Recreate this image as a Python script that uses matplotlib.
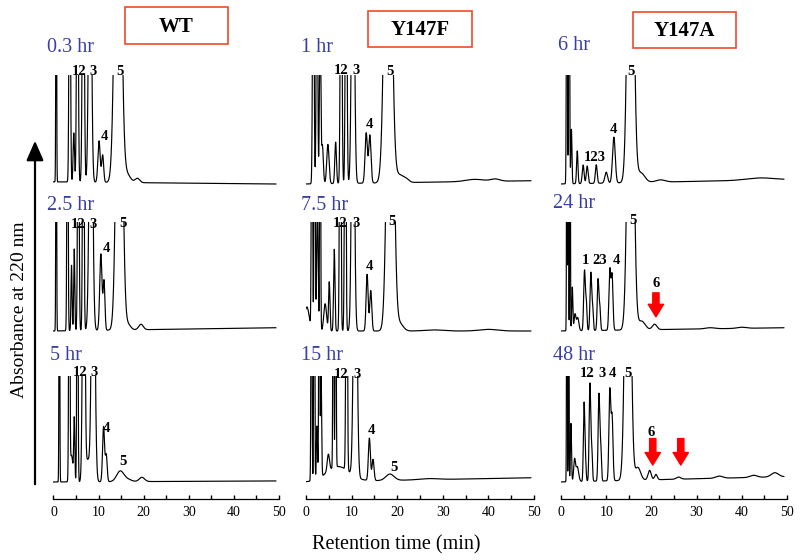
import numpy as np
import matplotlib.pyplot as plt
from matplotlib.patches import Rectangle, FancyArrowPatch

plt.rcParams['font.family'] = ['Liberation Serif', 'DejaVu Serif']

W, H = 802, 560

# peak tables: (retention time min, height, width min)
# height 1 = top of the panel, taller peaks are cut off there
wt_03h = [(0.6, 3, 0.08), (3.6, 3, 0.15), (4.5, 0.45, 0.15), (5.3, 3, 0.17),
          (6.6, 3, 0.2), (8.1, 3, 0.3), (10.1, 0.38, 0.25), (10.9, 0.25, 0.22),
          (14.3, 4, 0.65), (16.2, 0.08, 0.8), (18.6, 0.04, 0.5)]
wt_25h = [(0.6, 3, 0.08), (3.1, 3, 0.12), (4.0, 0.6, 0.12), (4.6, 0.75, 0.12),
          (5.5, 3, 0.15), (6.6, 3, 0.15), (8.3, 3, 0.35), (10.5, 0.7, 0.25),
          (11.2, 0.45, 0.2), (14.6, 4, 0.6), (16.5, 0.05, 0.6), (19.4, 0.05, 0.5)]
wt_5h = [(1.3, 3, 0.08), (3.5, 3, 0.12), (4.0, 0.25, 0.3), (4.6, 0.58, 0.12),
         (5.3, 3, 0.12), (6.7, 3, 0.25), (7.6, 0.2, 0.4), (8.8, 3, 0.35),
         (11.1, 0.52, 0.22), (11.7, 0.25, 0.2), (14.8, 0.1, 0.8),
         (16.5, 0.02, 0.8), (19.6, 0.04, 0.6)]
f_1h = [(1.6, 3, 0.15), (2.4, 2.5, 0.15), (3.1, 1.5, 0.15), (3.6, 0.35, 0.2),
        (4.8, 0.36, 0.25), (6.5, 0.38, 0.18), (7.7, 3, 0.17), (8.8, 3, 0.17),
        (10.3, 3, 0.3), (13.2, 0.46, 0.25), (14.0, 0.44, 0.25), (18.0, 4, 0.7),
        (20.5, 0.07, 0.8), (22.0, 0.03, 0.6), (37.0, 0.02, 2.0), (41.5, 0.02, 1.0)]
f_75h = [(0.2, 0.22, 0.5), (1.3, 3, 0.12), (1.9, 3, 0.12), (2.5, 1.2, 0.15),
         (3.1, 3, 0.1), (4.2, 0.25, 0.3), (5.1, 0.45, 0.15), (6.2, 0.75, 0.15),
         (7.5, 3, 0.15), (8.6, 3, 0.15), (10.3, 3, 0.3), (13.4, 0.52, 0.22),
         (14.2, 0.37, 0.22), (18.5, 4, 0.65), (20.5, 0.07, 0.8),
         (28.0, 0.01, 2.0), (40.0, 0.015, 2.0)]
f_15h = [(1.2, 3, 0.1), (1.8, 3, 0.1), (2.4, 0.5, 0.12), (2.9, 3, 0.1),
         (3.3, 1, 0.12), (7.0, 0.14, 2.5), (4.9, 0.16, 0.25), (6.0, 3, 0.1),
         (6.5, 3, 0.1), (8.9, 3, 0.15), (10.8, 3, 0.35), (13.9, 0.4, 0.22),
         (14.7, 0.2, 0.22), (18.4, 0.06, 0.9), (27.0, 0.01, 2.0)]
a_6h = [(1.3, 3, 0.1), (1.8, 3, 0.1), (2.3, 0.5, 0.12), (3.6, 0.3, 0.15),
        (4.9, 0.17, 0.2), (5.8, 0.16, 0.2), (7.8, 0.17, 0.2), (10.0, 0.1, 0.3),
        (11.7, 0.42, 0.3), (15.4, 4, 0.6), (17.6, 0.09, 0.9), (22.0, 0.02, 1.0),
        (44.0, 0.02, 3.0)]
a_24h = [(1.3, 3, 0.07), (1.6, 3, 0.07), (2.0, 3, 0.07), (2.5, 0.4, 0.12),
         (3.1, 0.15, 0.2), (3.7, 0.12, 0.25), (5.2, 0.55, 0.18), (5.6, 0.25, 0.15),
         (6.6, 0.53, 0.18), (7.0, 0.2, 0.15), (8.2, 0.47, 0.18), (8.6, 0.2, 0.15),
         (10.8, 0.55, 0.2), (11.3, 0.5, 0.2), (15.4, 4, 0.6), (17.8, 0.08, 0.8),
         (20.7, 0.05, 0.5), (33.0, 0.01, 1.0), (40.0, 0.01, 1.0)]
a_48h = [(1.3, 3, 0.07), (1.7, 3, 0.07), (2.2, 0.55, 0.12), (3.0, 0.2, 0.2),
         (3.6, 0.14, 0.3), (5.1, 0.72, 0.15), (5.4, 0.2, 0.15), (6.4, 0.92, 0.17),
         (6.8, 0.3, 0.15), (8.4, 0.82, 0.18), (8.8, 0.3, 0.15), (10.8, 0.85, 0.2),
         (11.3, 0.6, 0.2), (14.8, 4, 0.55), (17.0, 0.12, 0.6), (19.6, 0.09, 0.35),
         (21.0, 0.05, 0.3), (26.0, 0.02, 0.5), (35.0, 0.02, 0.8),
         (42.6, 0.02, 0.8), (47.3, 0.04, 0.8)]

# baseline level at start / end of each run
base_wt = [(0.02, 0.0), (0.0, 0.03), (0.0, 0.01)]
base_f = [(0.0, 0.03), (0.0, 0.0), (0.0, 0.04)]
base_a = [(0.0, 0.04), (0.0, 0.03), (0.0, 0.05)]

# peak numbers: (text, time, height)
lab_wt_03h = [('12', 5.6, 1.03), ('3', 8.7, 1.03), ('4', 11.3, 0.44), ('5', 14.8, 1.03)]
lab_wt_25h = [('12', 5.4, 0.98), ('3', 8.8, 0.98), ('4', 11.7, 0.76), ('5', 15.4, 0.99)]
lab_wt_5h = [('12', 5.9, 1.03), ('3', 9.0, 1.03), ('4', 11.7, 0.5), ('5', 15.4, 0.19)]
lab_f_1h = [('12', 7.7, 1.04), ('3', 11.0, 1.04), ('4', 14.0, 0.55), ('5', 18.4, 1.03)]
lab_f_75h = [('12', 7.5, 0.99), ('3', 11.0, 0.99), ('4', 13.9, 0.59), ('5', 18.8, 1.0)]
lab_f_15h = [('12', 7.8, 1.01), ('3', 11.1, 1.01), ('4', 14.4, 0.49), ('5', 19.4, 0.14)]
lab_a_6h = [('123', 7.5, 0.24), ('4', 11.7, 0.5), ('5', 15.4, 1.03)]
lab_a_24h = [('1', 5.5, 0.65), ('23', 8.5, 0.65), ('4', 12.2, 0.65), ('5', 16.0, 1.01), ('6', 21.0, 0.44)]
lab_a_48h = [('12', 5.8, 1.02), ('3', 9.0, 1.02), ('4', 11.4, 1.02), ('5', 14.9, 1.02), ('6', 20.0, 0.47)]

# red arrows: (time, tail height, tip height)
arr_a_24h = [(21.0, 0.35, 0.13)]
arr_a_48h = [(20.3, 0.41, 0.16), (26.5, 0.41, 0.16)]

enzymes = ['WT', 'Y147F', 'Y147A']
times_wt = ['0.3 hr', '2.5 hr', '5 hr']
times_f = ['1 hr', '7.5 hr', '15 hr']
times_a = ['6 hr', '24 hr', '48 hr']

panels = [
    [wt_03h, f_1h, a_6h],
    [wt_25h, f_75h, a_24h],
    [wt_5h, f_15h, a_48h],
]
bases = [base_wt, base_f, base_a]
labels = [
    [lab_wt_03h, lab_f_1h, lab_a_6h],
    [lab_wt_25h, lab_f_75h, lab_a_24h],
    [lab_wt_5h, lab_f_15h, lab_a_48h],
]
arrows = [[[], [], []], [[], [], arr_a_24h], [[], [], arr_a_48h]]
time_labels = [times_wt, times_f, times_a]

# layout in pixels
col_x0 = [53.5, 306, 561]
col_x1 = [279, 534, 787]
row_top = [75, 222, 376]
row_base = [184, 331, 482]
row_bot = [190, 337, 499]
tl_pos = [[(47, 48), (301, 47), (558, 45)],
          [(47, 206), (301, 205), (553, 204)],
          [(50, 356), (301, 356), (553, 356)]]
boxes = [(125, 7, 228, 44), (368, 11, 472, 47), (633, 12, 736, 48)]

blue = '#3b3fa5'
t = np.linspace(-0.4, 49.3, 4000)


def fx(x):
    return x / W


def fy(y):
    return 1 - y / H


fig = plt.figure(figsize=(W / 100, H / 100), dpi=100)

for r in range(3):
    for c in range(3):
        ax = fig.add_axes([fx(col_x0[c]), fy(row_bot[r]),
                           fx(col_x1[c] - col_x0[c]), (row_bot[r] - row_top[r]) / H])
        b0, b1 = bases[c][r]
        y = np.interp(t, [t[0], t[-1]], [b0, b1])
        for pk, h, w in panels[r][c]:
            y = y + h * np.exp(-0.5 * ((t - pk) / w) ** 2)
        ax.plot(t, y, color='black', lw=0.85)
        span = row_base[r] - row_top[r]
        ax.set_ylim(-(row_bot[r] - row_base[r]) / span, 1)
        ax.set_xlim(0, 50)
        for s, tt, hh in labels[r][c]:
            ax.text(tt, hh, s, ha='center', va='center', fontsize=10.5,
                    fontweight='bold', clip_on=False)
        for tt, h0, h1 in arrows[r][c]:
            ax.annotate('', xy=(tt, h1), xytext=(tt, h0),
                        arrowprops=dict(arrowstyle='simple,head_width=1.1,head_length=0.9,tail_width=0.45',
                                        color='red', mutation_scale=10, shrinkA=0, shrinkB=0))
        for sp in ['top', 'left', 'right']:
            ax.spines[sp].set_visible(False)
        ax.set_yticks([])
        if r == 2:
            ax.set_xticks([0, 10, 20, 30, 40, 50])
            ax.set_xticks(np.arange(0, 51, 5), minor=True)
            ax.tick_params(axis='x', which='both', direction='in', length=3,
                           width=1, labelsize=10, pad=5)
            ax.spines['bottom'].set_linewidth(0.9)
        else:
            ax.spines['bottom'].set_visible(False)
            ax.set_xticks([])
        ax.patch.set_alpha(0)
        x, yy = tl_pos[r][c]
        fig.text(fx(x), fy(yy), time_labels[c][r], color=blue, fontsize=14.5,
                 ha='left', va='center')

for name, (x0, y0, x1, y1) in zip(enzymes, boxes):
    fig.patches.append(Rectangle((fx(x0), fy(y1)), fx(x1 - x0), (y1 - y0) / H,
                                 transform=fig.transFigure, fill=False,
                                 edgecolor='#f04a2a', lw=1.2))
    fig.text(fx((x0 + x1) / 2), fy((y0 + y1) / 2 + 1), name, ha='center', va='center',
             fontsize=15, fontweight='bold')

# y axis label with arrow
fig.patches.append(FancyArrowPatch(
    (fx(35), fy(487)), (fx(35), fy(138)), transform=fig.transFigure,
    arrowstyle='-|>,head_width=0.35,head_length=0.8', mutation_scale=15,
    color='black', lw=1.6))
fig.text(fx(20), fy(310), 'Absorbance at 220 nm', rotation=90, ha='center',
         va='center', fontsize=14)
fig.text(fx(396), fy(545), 'Retention time (min)', ha='center', va='center',
         fontsize=14.5)

fig.savefig('out.png', dpi=100)
